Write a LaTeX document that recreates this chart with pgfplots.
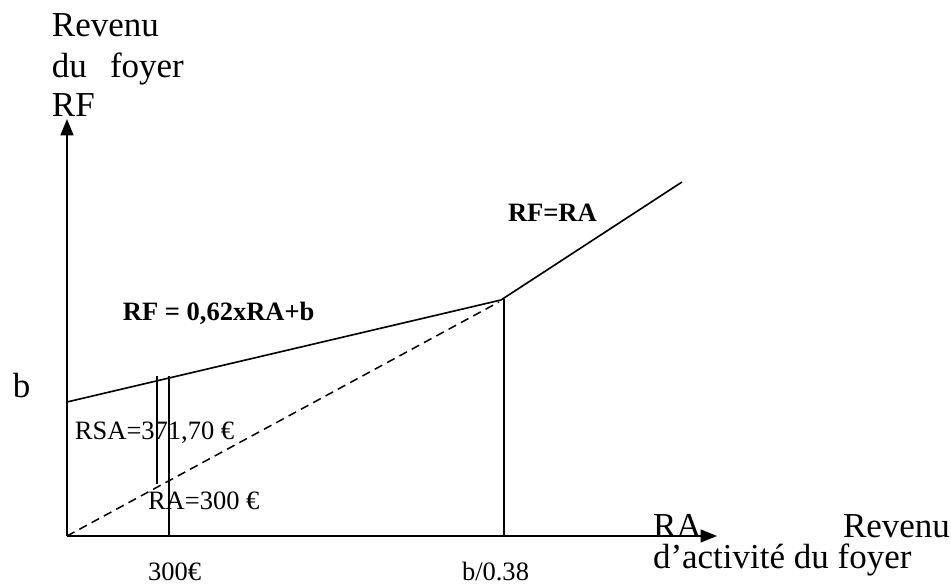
\documentclass[border=0pt]{standalone}
\usepackage{fontspec}
\setmainfont{Liberation Serif}
\usepackage{pgfplots}
\pgfplotsset{compat=1.18}
\usetikzlibrary{arrows.meta}

\newcommand{\bigtxt}{\fontsize{14}{16}\selectfont}
\newcommand{\smalltxt}{\fontsize{10.6}{12}\selectfont}

\begin{document}
\begin{tikzpicture}[lbl/.style={inner sep=0pt, outer sep=0pt, anchor=base west}]
\begin{axis}[
  x=0.4pt, y=0.4pt,
  xmin=0, xmax=650,
  ymin=0, ymax=417,
  enlargelimits=false,
  axis lines=left,
  axis line style={line width=0.7pt, -{Triangle[length=6.6pt, width=5.2pt]}},
  ticks=none,
  clip=false,
]
% page frame (no ink)
\path (axis cs:-67,-48) rectangle (axis cs:884,536);

% RF = 0,62 x RA + b, then RF = RA
\addplot[black, line width=0.65pt] coordinates {(0,134) (434,236) (615,354)};
% RF = RA below the kink
\addplot[black, line width=0.6pt, dash pattern=on 3.4pt off 2.2pt] coordinates {(0,0) (432,234)};
% vertical at b/0.38
\addplot[black, line width=0.6pt] coordinates {(437,0) (437,237)};
% vertical at RA = 300
\addplot[black, line width=0.6pt] coordinates {(102,0) (102,160)};
% RSA segment
\addplot[black, line width=0.8pt] coordinates {(90,52) (90,160)};

% y axis title
\node[lbl, font=\bigtxt] at (axis cs:-15,499) {Revenu};
\node[lbl, font=\bigtxt] at (axis cs:-15,458) {du};
\node[lbl, font=\bigtxt] at (axis cs:43,458) {foyer};
\node[lbl, font=\bigtxt] at (axis cs:-15,419) {RF};

% x axis title
\node[lbl, font=\bigtxt] at (axis cs:586,-2) {RA};
\node[lbl, font=\bigtxt] at (axis cs:776,-2) {Revenu};
\node[lbl, font=\bigtxt] at (axis cs:586,-33) {d’activité du foyer};

% marks on the axes
\node[lbl, font=\bigtxt] at (axis cs:-54,138) {b};
\node[lbl, font=\smalltxt] at (axis cs:81,-45) {300€};
\node[lbl, font=\smalltxt] at (axis cs:395,-45) {b/0.38};

% annotations
\node[lbl, font=\smalltxt] at (axis cs:8,96) {RSA=371,70 €};
\node[lbl, font=\smalltxt] at (axis cs:81,26) {RA=300 €};
\node[lbl, font=\smalltxt\bfseries] at (axis cs:56,215) {RF = 0,62xRA+b};
\node[lbl, font=\smalltxt\bfseries] at (axis cs:441,314) {RF=RA};
\end{axis}
\end{tikzpicture}
\end{document}
